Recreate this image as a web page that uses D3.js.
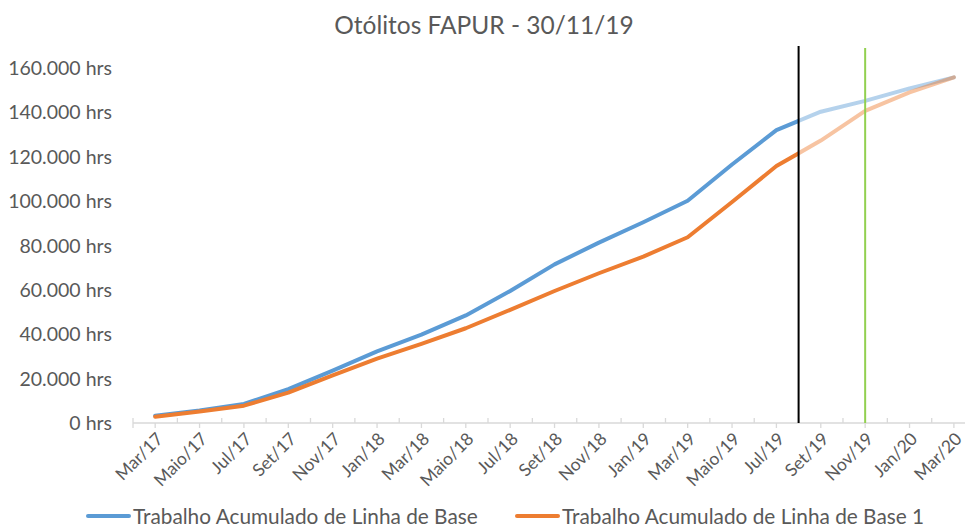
<!DOCTYPE html>
<meta charset="utf-8">
<script src="https://d3js.org/d3.v7.min.js"></script>
<style>
  body { margin: 0; background: #fff; }
  text { font-family: Lato, "Open Sans", sans-serif; fill: #595959; }
</style>
<div id="chart"></div>
<script>
// bimonthly labels, Mar/17 .. Mar/20 (month index = 2 * position)
var monthLabels = ["Mar/17","Maio/17","Jul/17","Set/17","Nov/17","Jan/18","Mar/18","Maio/18","Jul/18","Set/18",
                   "Nov/18","Jan/19","Mar/19","Maio/19","Jul/19","Set/19","Nov/19","Jan/20","Mar/20"];
var baseLine  = [3300, 5600, 8600, 15300, 23600, 32300, 39800, 48500, 59500, 71500,
                 81300, 90500, 100200, 116500, 132000, 140300, 145200, 150800, 155800];
var baseLine1 = [2800, 5200, 7800, 13700, 21500, 29000, 35700, 42700, 51000, 59500,
                 67500, 75000, 83700, 99600, 115800, 127300, 140700, 149000, 155800];
var seriesNames = ["Trabalho Acumulado de Linha de Base", "Trabalho Acumulado de Linha de Base 1"];
var yTicks = [0, 20000, 40000, 60000, 80000, 100000, 120000, 140000, 160000];
var statusMonth = 29;   // Ago/19 - black marker
var todayMonth = 32;    // Nov/19 - green marker (30/11/19)

var W = 968, H = 529;
var svg = d3.select("#chart").append("svg").attr("width", W).attr("height", H);

var x = d3.scaleLinear().domain([-1, 36.5]).range([133, 965]);
var y = d3.scaleLinear().domain([0, 160000]).range([423, 68]);

var fmt = d3.formatLocale({decimal: ",", thousands: ".", grouping: [3], currency: ["", ""]}).format(",");

// title
svg.append("text").attr("x", 484).attr("y", 34).attr("text-anchor", "middle")
  .style("font-size", "24.5px").text("Otólitos FAPUR - 30/11/19");

// y labels
svg.selectAll(".ylab").data(yTicks).enter().append("text")
  .attr("x", 112).attr("y", function(d) { return y(d) + 7; })
  .attr("text-anchor", "end").style("font-size", "19.5px")
  .text(function(d) { return fmt(d) + " hrs"; });

// x axis line + ticks
svg.append("line").attr("x1", x(-1)).attr("x2", x(36.5)).attr("y1", y(0)).attr("y2", y(0))
  .attr("stroke", "#d9d9d9").attr("stroke-width", 1.3);
svg.selectAll(".tk").data(d3.range(-1, 37)).enter().append("line")
  .attr("x1", function(d) { return x(d); }).attr("x2", function(d) { return x(d); })
  .attr("y1", function(d) { return d % 2 === 0 ? y(0) : y(0) - 5; })
  .attr("y2", function(d) { return d % 2 === 0 ? y(0) + 5 : (d === -1 ? y(0) + 5 : y(0)); })
  .attr("stroke", "#d9d9d9").attr("stroke-width", 1.3);

svg.selectAll(".xlab").data(monthLabels).enter().append("text")
  .attr("transform", function(d, i) { return "translate(" + (x(2 * i) + 9) + "," + (y(0) + 17) + ") rotate(-45)"; })
  .attr("text-anchor", "end").style("font-size", "17.5px")
  .text(function(d) { return d; });

// clip regions: solid before status date, faded after
svg.append("clipPath").attr("id", "past").append("rect")
  .attr("x", 0).attr("y", 0).attr("width", x(statusMonth)).attr("height", H);
svg.append("clipPath").attr("id", "future").append("rect")
  .attr("x", x(statusMonth)).attr("y", 0).attr("width", W).attr("height", H);

var line = d3.line().x(function(d, i) { return x(2 * i); }).y(function(d) { return y(d); });
var series = [{vals: baseLine, color: "#5b9bd5"}, {vals: baseLine1, color: "#ed7d31"}];

series.forEach(function(s) {
  svg.append("path").datum(s.vals).attr("d", line).attr("fill", "none")
    .attr("stroke", s.color).attr("stroke-width", 4).attr("stroke-opacity", 0.45)
    .attr("stroke-linecap", "round").attr("stroke-linejoin", "round").attr("clip-path", "url(#future)");
  svg.append("path").datum(s.vals).attr("d", line).attr("fill", "none")
    .attr("stroke", s.color).attr("stroke-width", 4)
    .attr("stroke-linecap", "round").attr("stroke-linejoin", "round").attr("clip-path", "url(#past)");
});

// marker lines
svg.append("line").attr("x1", x(statusMonth)).attr("x2", x(statusMonth)).attr("y1", 46).attr("y2", y(0))
  .attr("stroke", "#000").attr("stroke-width", 2);
svg.append("line").attr("x1", x(todayMonth)).attr("x2", x(todayMonth)).attr("y1", 48).attr("y2", y(0))
  .attr("stroke", "#92d050").attr("stroke-width", 2);

// legend
var legX = [88, 517];
seriesNames.forEach(function(n, i) {
  svg.append("line").attr("x1", legX[i]).attr("x2", legX[i] + 41).attr("y1", 516).attr("y2", 516)
    .attr("stroke", series[i].color).attr("stroke-width", 4).attr("stroke-linecap", "round");
  svg.append("text").attr("x", legX[i] + 45).attr("y", 524).style("font-size", "20.8px").text(n);
});
</script>
